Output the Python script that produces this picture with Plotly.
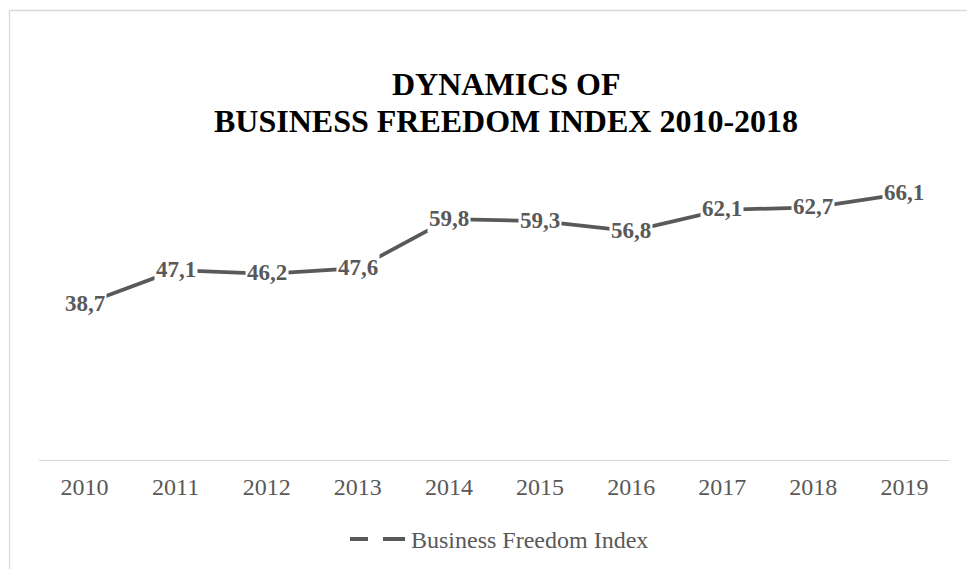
import plotly.graph_objects as go

# Business Freedom Index by year
years = ["2010", "2011", "2012", "2013", "2014", "2015", "2016", "2017", "2018", "2019"]
index_values = [38.7, 47.1, 46.2, 47.6, 59.8, 59.3, 56.8, 62.1, 62.7, 66.1]
series_name = "Business Freedom Index"
title_lines = ["DYNAMICS OF", "BUSINESS FREEDOM INDEX 2010-2018"]

W, H = 967, 569
M_L, M_R, M_T, M_B = 39, 17, 178, 109
PLOT_W = W - M_L - M_R
PLOT_H = H - M_T - M_B

LINE_COLOR = "#595959"
FRAME_COLOR = "#d9d9d9"
SERIF = "Liberation Serif, Times New Roman, serif"


def px_x(x):
    """Pixel column -> paper x."""
    return (x - M_L) / PLOT_W


def px_y(y):
    """Pixel row -> paper y."""
    return (H - M_B - y) / PLOT_H


fig = go.Figure()
fig.add_trace(go.Scatter(
    x=years, y=index_values, mode="lines", name=series_name,
    line=dict(color=LINE_COLOR, width=3.75), showlegend=False,
    hoverinfo="x+y",
))

annotations = []
# value labels sitting on the line with a white backing (x = category index)
for i, v in enumerate(index_values):
    annotations.append(dict(
        x=i, y=v, xref="x", yref="y", text=f"<b>{v:.1f}</b>".replace(".", ","),
        showarrow=False, bgcolor="white", borderpad=1,
        font=dict(family=SERIF, size=23, color=LINE_COLOR),
        xanchor="center", yanchor="middle", yshift=1,
    ))

# two-line title
for txt, yc in zip(title_lines, [84, 120.5]):
    annotations.append(dict(
        x=px_x(506), y=px_y(yc), xref="paper", yref="paper",
        text=f"<b>{txt}</b>", showarrow=False,
        font=dict(family=SERIF, size=32, color="black"),
        xanchor="center", yanchor="middle",
    ))

# legend label
annotations.append(dict(
    x=px_x(409), y=px_y(539.5), xref="paper", yref="paper",
    text=series_name, showarrow=False,
    font=dict(family=SERIF, size=24, color=LINE_COLOR),
    xanchor="left", yanchor="middle",
))

shapes = [
    # chart frame edges
    dict(type="line", xref="paper", yref="paper", x0=px_x(9.5), x1=px_x(9.5),
         y0=px_y(10.5), y1=px_y(H + 2), line=dict(color=FRAME_COLOR, width=1.3)),
    dict(type="line", xref="paper", yref="paper", x0=px_x(9.5), x1=px_x(W + 2),
         y0=px_y(10.5), y1=px_y(10.5), line=dict(color=FRAME_COLOR, width=1.3)),
    # legend key
    dict(type="line", xref="paper", yref="paper", x0=px_x(350), x1=px_x(368),
         y0=px_y(539), y1=px_y(539), line=dict(color=LINE_COLOR, width=4)),
    dict(type="line", xref="paper", yref="paper", x0=px_x(383), x1=px_x(405),
         y0=px_y(539), y1=px_y(539), line=dict(color=LINE_COLOR, width=4)),
]

fig.update_layout(
    width=W, height=H,
    margin=dict(l=M_L, r=M_R, t=M_T, b=M_B),
    paper_bgcolor="white", plot_bgcolor="white",
    showlegend=False,
    annotations=annotations, shapes=shapes,
    xaxis=dict(
        type="category", range=[-0.5, len(years) - 0.5],
        showgrid=False, zeroline=False,
        showline=True, linecolor=FRAME_COLOR, linewidth=1.3,
        ticks="", tickfont=dict(family=SERIF, size=24, color=LINE_COLOR),
        ticklabelstandoff=5,
    ),
    yaxis=dict(range=[0, 70], visible=False, showgrid=False, zeroline=False),
)

fig.write_html("out.html")
